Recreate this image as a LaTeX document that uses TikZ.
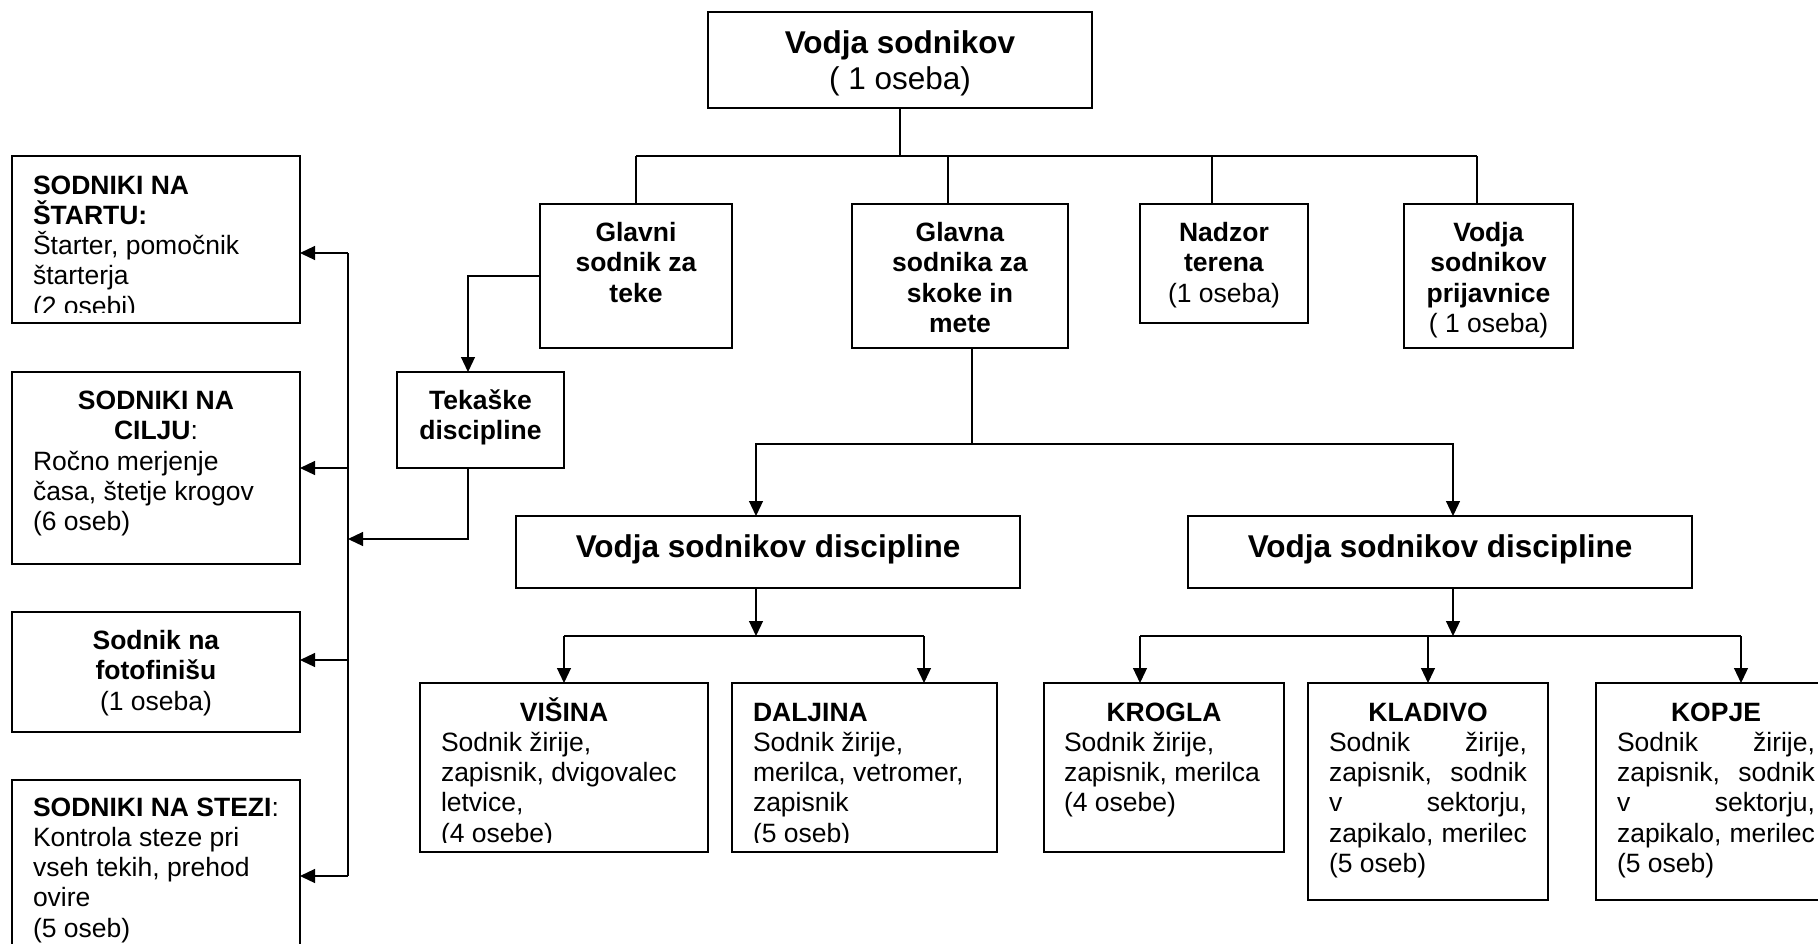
\documentclass[tikz,border=0pt]{standalone}
\usepackage{fontspec}
\setmainfont{Liberation Sans}
\usetikzlibrary{arrows.meta}
\newcommand\fs{\fontsize{26.5pt}{30.3pt}\selectfont}
\newcommand\fl{\fontsize{31.5pt}{36.5pt}\selectfont}
\newcommand\sr{\rule{0pt}{37.5pt}}
\newcommand\srb{\rule{0pt}{38pt}}
\newcommand\srl{\rule{0pt}{41pt}}
\newcommand\bt[1]{\textbf{#1}}
\newcommand\jl[1]{\makebox[\linewidth][s]{#1}}
\begin{document}
\begin{tikzpicture}[x=1pt,y=-1pt,
  bx/.style={draw, line width=1.3pt, anchor=north west, inner sep=0pt, outer sep=0pt},
  tx/.style={anchor=north west, inner sep=0pt, outer sep=0pt},
  ln/.style={line width=1.2pt},
  arr/.style={line width=1.2pt, -{Triangle[length=15pt,width=14pt]}}]
\fill[white] (0,0) rectangle (1818,943);
\useasboundingbox (0,0) rectangle (1818,943);
\clip (0,0) rectangle (1818,943);

% ---------- boxes ----------
\node[bx, minimum width=384pt, minimum height=96pt] (top) at (708,12) {};
\node[bx, minimum width=192pt, minimum height=144pt] (glavni) at (540,204) {};
\node[bx, minimum width=216pt, minimum height=144pt] (glavna) at (852,204) {};
\node[bx, minimum width=168pt, minimum height=119pt] (nadzor) at (1140,204) {};
\node[bx, minimum width=169pt, minimum height=144pt] (prijav) at (1404,204) {};
\node[bx, minimum width=167pt, minimum height=96pt] (tekaske) at (397,372) {};
\node[bx, minimum width=288pt, minimum height=167pt] (start) at (12,156) {};
\node[bx, minimum width=288pt, minimum height=192pt] (cilj) at (12,372) {};
\node[bx, minimum width=288pt, minimum height=120pt] (foto) at (12,612) {};
\node[bx, minimum width=288pt, minimum height=200pt] (stezi) at (12,780) {};
\node[bx, minimum width=504pt, minimum height=72pt] (vsdL) at (516,516) {};
\node[bx, minimum width=504pt, minimum height=72pt] (vsdR) at (1188,516) {};
\node[bx, minimum width=288pt, minimum height=169pt] (visina) at (420,683) {};
\node[bx, minimum width=265pt, minimum height=169pt] (daljina) at (732,683) {};
\node[bx, minimum width=240pt, minimum height=169pt] (krogla) at (1044,683) {};
\node[bx, minimum width=240pt, minimum height=217pt] (kladivo) at (1308,683) {};
\node[bx, minimum width=240pt, minimum height=217pt] (kopje) at (1596,683) {};

% ---------- texts ----------
\node[tx] (topT) at (top.north west) {\parbox[t]{384pt}{\fl\centering\srl\bt{Vodja sodnikov}\\ ( 1 oseba)}};
\node[tx] (glavniT) at (glavni.north west) {\parbox[t]{192pt}{\fs\centering\sr\bt{Glavni}\\ \bt{sodnik za}\\ \bt{teke}}};
\node[tx] (glavnaT) at (glavna.north west) {\parbox[t]{216pt}{\fs\centering\sr\bt{Glavna}\\ \bt{sodnika za}\\ \bt{skoke in}\\ \bt{mete}}};
\node[tx] (nadzorT) at (nadzor.north west) {\parbox[t]{168pt}{\fs\centering\sr\bt{Nadzor}\\ \bt{terena}\\ (1 oseba)}};
\node[tx] (prijavT) at (prijav.north west) {\parbox[t]{169pt}{\fs\centering\sr\bt{Vodja}\\ \bt{sodnikov}\\ \bt{prijavnice}\\ ( 1 oseba)}};
\node[tx] (tekaskeT) at (tekaske.north west) {\parbox[t]{167pt}{\fs\centering\sr\bt{Tekaške}\\ \bt{discipline}}};
\begin{scope}
\clip (start.north west) rectangle ([yshift=11pt]start.south east);
\node[tx] (startT) at ([xshift=21pt]start.north west) {\parbox[t]{246pt}{\fs\srb\bt{SODNIKI NA}\\ \bt{ŠTARTU:}\\ Štarter, pomočnik\\ štarterja\\ (2 osebi)}};
\end{scope}
\node[tx] (ciljT) at ([xshift=21pt]cilj.north west) {\parbox[t]{246pt}{\fs{\centering\sr\bt{SODNIKI NA}\\ \bt{CILJU}:\par}Ročno merjenje\\ časa, štetje krogov\\ (6 oseb)}};
\node[tx] (fotoT) at ([xshift=21pt]foto.north west) {\parbox[t]{246pt}{\fs\centering\sr\bt{Sodnik na}\\ \bt{fotofinišu}\\ (1 oseba)}};
\node[tx] (steziT) at ([xshift=21pt]stezi.north west) {\parbox[t]{250pt}{\fs\rule{0pt}{36pt}\bt{SODNIKI NA STEZI}:\\ Kontrola steze pri\\ vseh tekih, prehod\\ ovire\\ (5 oseb)}};
\node[tx] (vsdLT) at (vsdL.north west) {\parbox[t]{504pt}{\fl\centering\srl\bt{Vodja sodnikov discipline}}};
\node[tx] (vsdRT) at (vsdR.north west) {\parbox[t]{504pt}{\fl\centering\srl\bt{Vodja sodnikov discipline}}};
\begin{scope}
\clip (visina.north west) rectangle ([yshift=10pt]visina.south east);
\node[tx] (visinaT) at ([xshift=21pt]visina.north west) {\parbox[t]{246pt}{\fs{\centering\srb\bt{VIŠINA}\par}Sodnik žirije,\\ zapisnik, dvigovalec\\ letvice,\\ (4 osebe)}};
\end{scope}
\begin{scope}
\clip (daljina.north west) rectangle ([yshift=10pt]daljina.south east);
\node[tx] (daljinaT) at ([xshift=21pt]daljina.north west) {\parbox[t]{223pt}{\fs\srb\bt{DALJINA}\\ Sodnik žirije,\\ merilca, vetromer,\\ zapisnik\\ (5 oseb)}};
\end{scope}
\node[tx] (kroglaT) at ([xshift=20pt]krogla.north west) {\parbox[t]{200pt}{\fs{\centering\srb\bt{KROGLA}\par}Sodnik žirije,\\ zapisnik, merilca\\ (4 osebe)}};
\node[tx] (kladivoT) at ([xshift=21pt]kladivo.north west) {\parbox[t]{198pt}{\fs\srb\makebox[\linewidth]{\bt{KLADIVO}}\\ \jl{Sodnik žirije,}\\ \jl{zapisnik, sodnik}\\ \jl{v sektorju,}\\ \jl{zapikalo, merilec}\\ (5 oseb)}};
\node[tx] (kopjeT) at ([xshift=21pt]kopje.north west) {\parbox[t]{198pt}{\fs\srb\makebox[\linewidth]{\bt{KOPJE}}\\ \jl{Sodnik žirije,}\\ \jl{zapisnik, sodnik}\\ \jl{v sektorju,}\\ \jl{zapikalo, merilec}\\ (5 oseb)}};

% ---------- connectors ----------
% top level
\coordinate (b0) at (900,156);
\coordinate (bL) at (636,156);
\coordinate (b2) at (948,156);
\coordinate (b3) at (1212,156);
\coordinate (bR) at (1477,156);
\draw[ln] (top.south) -- (b0);
\draw[ln] (bL) -- (bR);
\draw[ln] (bL) -- (glavni.north);
\draw[ln] (b2) -- (b2 |- glavna.north);
\draw[ln] (b3) -- (b3 |- nadzor.north);
\draw[ln] (bR) -- (bR |- prijav.north);

% running
\coordinate (g1) at (468,276);
\draw[arr] (g1 -| glavni.west) -- (g1) -- (g1 |- tekaske.north);
\coordinate (k1) at (468,539);
\coordinate (k2) at (348,539);
\draw[arr] (k1 |- tekaske.south) -- (k1) -- (k2);
\coordinate (L1) at (348,253);
\coordinate (L2) at (348,468);
\coordinate (L3) at (348,660);
\coordinate (L4) at (348,876);
\draw[ln] (L1) -- (L4);
\draw[arr] (L1) -- (L1 -| start.east);
\draw[arr] (L2) -- (L2 -| cilj.east);
\draw[arr] (L3) -- (L3 -| foto.east);
\draw[arr] (L4) -- (L4 -| stezi.east);

% jumps and throws
\coordinate (m0) at (972,444);
\coordinate (mL) at (756,444);
\coordinate (mR) at (1453,444);
\draw[ln] (m0 |- glavna.south) -- (m0);
\draw[arr] (m0) -- (mL) -- (mL |- vsdL.north);
\draw[arr] (m0) -- (mR) -- (mR |- vsdR.north);

\coordinate (n0) at (756,636);
\coordinate (nL) at (564,636);
\coordinate (nR) at (924,636);
\draw[arr] (n0 |- vsdL.south) -- (n0);
\draw[ln] (nL) -- (nR);
\draw[arr] (nL) -- (visina.north);
\draw[arr] (nR) -- (nR |- daljina.north);

\coordinate (p0) at (1453,636);
\coordinate (pL) at (1140,636);
\coordinate (pM) at (1428,636);
\coordinate (pR) at (1741,636);
\draw[arr] (p0 |- vsdR.south) -- (p0);
\draw[ln] (pL) -- (pR);
\draw[arr] (pL) -- (pL |- krogla.north);
\draw[arr] (pM) -- (kladivo.north);
\draw[arr] (pR) -- (pR |- kopje.north);
\end{tikzpicture}
\end{document}
